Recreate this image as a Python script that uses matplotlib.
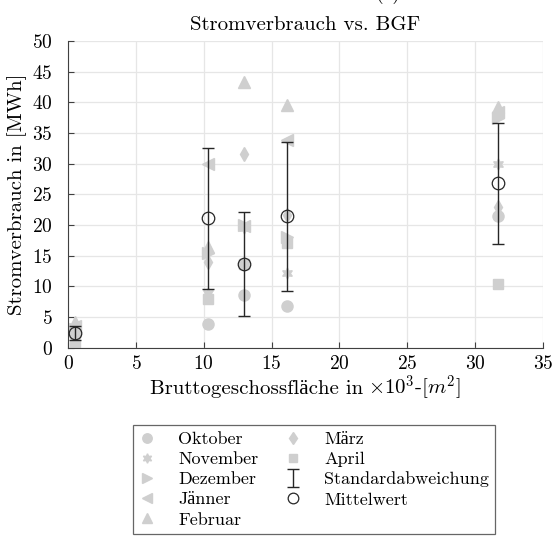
import numpy as np
import matplotlib
matplotlib.use("Agg")
import matplotlib.pyplot as plt

plt.rcParams["font.family"] = ["cmr10", "Liberation Serif"]
plt.rcParams["mathtext.fontset"] = "cm"
plt.rcParams["axes.formatter.use_mathtext"] = True

# Data: Bruttogeschossflaeche (x 10^3 m^2) and monthly consumption (MWh)
bgf = [0.5, 10.3, 13.0, 16.1, 31.7]
months = ["Oktober", "November", "Dezember", "Jänner", "Februar", "März", "April"]
oktober = [2.0, 3.8, 8.6, 6.8, 21.5]
november = [2.5, 9.0, 19.5, 12.2, 30.0]
dezember = [3.0, 15.5, 20.0, 18.1, 37.5]
jaenner = [3.5, 30.0, 19.8, 33.9, 38.5]
februar = [4.2, 16.5, 43.3, 39.5, 39.3]
maerz = [1.5, 14.0, 31.6, 21.6, 22.9]
april = [0.5, 8.0, 13.7, 17.1, 10.4]
mittelwert = [2.4, 21.1, 13.6, 21.4, 26.8]
std_abw = [1.2, 11.5, 8.5, 12.1, 9.9]

series = [oktober, november, dezember, jaenner, februar, maerz, april]
markers = ["o", (6, 1, 0), ">", "<", "^", "d", "s"]
sizes = [8, 8, 8, 8, 8, 7, 7]
grey = "#cfcfcf"
dark = "#262626"

fig = plt.figure(figsize=(5.54, 5.40), dpi=100)
ax = fig.add_axes([0.123, 0.356, 0.857, 0.568])

for vals, mk, ms, name in zip(series, markers, sizes, months):
    ax.plot(bgf, vals, linestyle="none", marker=mk, markersize=ms,
            color=grey, markeredgecolor=grey, label=name, zorder=2)

ax.errorbar(bgf, mittelwert, yerr=std_abw, fmt="none", ecolor=dark,
            elinewidth=1.0, capsize=4.5, capthick=1.0,
            label="Standardabweichung", zorder=3)
ax.plot(bgf, mittelwert, linestyle="none", marker="o", markersize=9,
        markerfacecolor="none", markeredgecolor=dark, markeredgewidth=0.9,
        label="Mittelwert", zorder=4)

ax.set_xlim(0, 35)
ax.set_ylim(0, 50)
ax.set_xticks(np.arange(0, 36, 5))
ax.set_yticks(np.arange(0, 51, 5))
ax.grid(True, color="#e6e6e6", linewidth=0.9)
ax.set_axisbelow(True)
for s in ["top", "right"]:
    ax.spines[s].set_visible(False)
for s in ["left", "bottom"]:
    ax.spines[s].set_color("#404040")
ax.tick_params(direction="in", length=4, labelsize=14, color="#404040")
ax.tick_params(axis="y", pad=11)
ax.tick_params(axis="x", pad=5)

ax.set_title("Stromverbrauch vs. BGF", fontsize=15, pad=8)
ax.set_ylabel("Stromverbrauch in [MWh]", fontsize=15)

# x label in two parts so the umlaut comes out of the plain-text font
y_lab = 1 - 394 / 540
t1 = fig.text(0, y_lab, "Bruttogeschossfläche in", fontsize=15,
              ha="left", va="baseline")
t2 = fig.text(0, y_lab, r"$\times 10^3$-[$m^2$]", fontsize=15,
              ha="left", va="baseline")
fig.canvas.draw()
r = fig.canvas.get_renderer()
w1 = t1.get_window_extent(r).width
w2 = t2.get_window_extent(r).width
gap = 5
cx = (0.123 + 0.857 / 2) * 554
x0 = cx - (w1 + gap + w2) / 2
t1.set_x(x0 / 554)
t2.set_x((x0 + w1 + gap) / 554)

fig.text(0.70, 1.012, "(a)", fontsize=14, ha="center", va="center")

h, l = ax.get_legend_handles_labels()
order = [0, 1, 2, 3, 4, 5, 6, 8, 7]
h = [h[i] for i in order]
l = [l[i] for i in order]
leg = fig.legend(h, l, loc="upper left", bbox_to_anchor=(133 / 554, 1 - 425 / 540),
                 borderaxespad=0, ncol=2, fontsize=13, frameon=True,
                 fancybox=False, edgecolor="#404040", handletextpad=1.35,
                 handlelength=0.8, columnspacing=1.5, labelspacing=0.25,
                 borderpad=0.35, markerscale=0.85)
leg.get_frame().set_linewidth(0.9)

fig.savefig("out.png", dpi=100)
